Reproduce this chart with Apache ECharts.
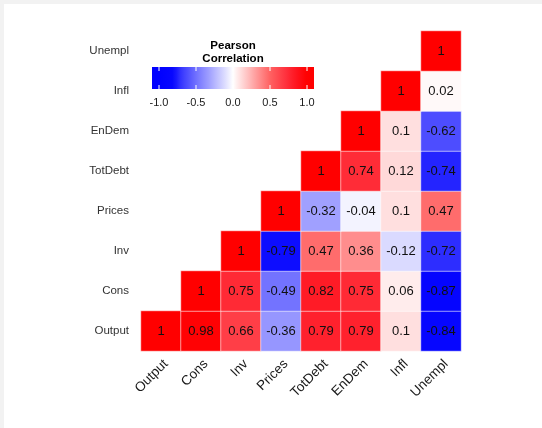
<!DOCTYPE html>
<html>
<head>
<meta charset="utf-8">
<script src="https://cdn.jsdelivr.net/npm/echarts@6/dist/echarts.min.js"></script>
<style>
  html, body { margin: 0; padding: 0; background: #ffffff; }
  #main { width: 542px; height: 428px; }
</style>
</head>
<body>
<div id="main"></div>
<script>
// Variables shown on both axes (bottom-to-top on y, left-to-right on x)
const variables = ['Output', 'Cons', 'Inv', 'Prices', 'TotDebt', 'EnDem', 'Infl', 'Unempl'];

// Pearson correlation matrix, one row per variable
const corOutput  = [1, 0.98, 0.66, -0.36, 0.79, 0.79, 0.1, -0.84];
const corCons    = [0.98, 1, 0.75, -0.49, 0.82, 0.75, 0.06, -0.87];
const corInv     = [0.66, 0.75, 1, -0.79, 0.47, 0.36, -0.12, -0.72];
const corPrices  = [-0.36, -0.49, -0.79, 1, -0.32, -0.04, 0.1, 0.47];
const corTotDebt = [0.79, 0.82, 0.47, -0.32, 1, 0.74, 0.12, -0.74];
const corEnDem   = [0.79, 0.75, 0.36, -0.04, 0.74, 1, 0.1, -0.62];
const corInfl    = [0.1, 0.06, -0.12, 0.1, 0.12, 0.1, 1, 0.02];
const corUnempl  = [-0.84, -0.87, -0.72, 0.47, -0.74, -0.62, 0.02, 1];

// Colour bar tick labels
const legendTicks = [-1.0, -0.5, 0.0, 0.5, 1.0];

// Diverging blue-white-red palette (value, colour)
const paletteStops = [
  [-1, '#0000ff'], [-0.8, '#0808ff'], [-0.7, '#3636ff'], [-0.5, '#7070ff'],
  [-0.3, '#a6a6ff'], [-0.1, '#e0e0ff'], [0, '#ffffff'], [0.1, '#ffdfdf'],
  [0.3, '#ffa0a0'], [0.5, '#ff6262'], [0.7, '#ff3440'], [0.85, '#ff1520'], [1, '#ff0000']
];

const matrix = [corOutput, corCons, corInv, corPrices, corTotDebt, corEnDem, corInfl, corUnempl];

function hexToRgb(h) {
  return [parseInt(h.slice(1, 3), 16), parseInt(h.slice(3, 5), 16), parseInt(h.slice(5, 7), 16)];
}
function paletteAt(v) {
  for (let i = 1; i < paletteStops.length; i++) {
    const [v1, c1] = paletteStops[i];
    const [v0, c0] = paletteStops[i - 1];
    if (v <= v1) {
      const t = (v - v0) / (v1 - v0);
      const a = hexToRgb(c0), b = hexToRgb(c1);
      const c = a.map((x, k) => Math.round(x + (b[k] - x) * t));
      return 'rgb(' + c.join(',') + ')';
    }
  }
  return paletteStops[paletteStops.length - 1][1];
}

// Evenly spaced colour ramp for the visual map
const ramp = [];
for (let i = 0; i <= 80; i++) ramp.push(paletteAt(-1 + i * 2 / 80));

// Lower/right triangle of the matrix: column index >= row index
const cells = [];
matrix.forEach((row, r) => {
  row.forEach((v, c) => {
    if (c >= r) cells.push([c, r, v]);
  });
});

// Colour bar geometry
const barX = 152, barY = 67, barW = 162, barH = 22;
const tickX0 = 159, tickX1 = 307;
const valToX = v => tickX0 + (v + 1) / 2 * (tickX1 - tickX0);

const gradStops = [];
for (let i = 0; i <= 40; i++) {
  const x = barX + i * barW / 40;
  const v = Math.max(-1, Math.min(1, (x - tickX0) / (tickX1 - tickX0) * 2 - 1));
  gradStops.push({ offset: i / 40, color: paletteAt(v) });
}

const graphics = [
  { type: 'rect', shape: { x: 0, y: 0, width: 542, height: 4 }, style: { fill: '#f2f2f2' }, silent: true },
  { type: 'rect', shape: { x: 0, y: 0, width: 4, height: 428 }, style: { fill: '#f2f2f2' }, silent: true },
  {
    type: 'rect', shape: { x: barX, y: barY, width: barW, height: barH },
    style: { fill: new echarts.graphic.LinearGradient(0, 0, 1, 0, gradStops) }
  },
  {
    type: 'text', x: 233, y: 39,
    style: { text: 'Pearson\nCorrelation', fontFamily: 'Liberation Sans, Arial, sans-serif', fontSize: 11.5, fontWeight: 'bold', fill: '#000', align: 'center', verticalAlign: 'top', lineHeight: 13 }
  }
];
legendTicks.forEach(t => {
  const x = valToX(t);
  graphics.push({ type: 'line', shape: { x1: x, y1: barY, x2: x, y2: barY + 4 }, style: { stroke: '#ffffff', lineWidth: 1 } });
  graphics.push({ type: 'line', shape: { x1: x, y1: barY + barH - 4, x2: x, y2: barY + barH }, style: { stroke: '#ffffff', lineWidth: 1 } });
  graphics.push({
    type: 'text', x: x, y: barY + barH + 8,
    style: { text: t.toFixed(1), fontFamily: 'Liberation Sans, Arial, sans-serif', fontSize: 11, fill: '#1a1a1a', align: 'center', verticalAlign: 'top' }
  });
});

const chart = echarts.init(document.getElementById('main'), null, { renderer: 'canvas' });
chart.setOption({
  backgroundColor: '#ffffff',
  animation: false,
  grid: { left: 141, top: 31, width: 320, height: 320 },
  xAxis: {
    type: 'category', data: variables,
    axisLine: { show: false }, axisTick: { show: false }, splitLine: { show: false },
    axisLabel: {
      rotate: 45, margin: 6, align: 'right', verticalAlign: 'top',
      fontSize: 13.5, color: '#1a1a1a', fontFamily: 'Liberation Sans, Arial, sans-serif', interval: 0
    }
  },
  yAxis: {
    type: 'category', data: variables,
    axisLine: { show: false }, axisTick: { show: false }, splitLine: { show: false },
    axisLabel: { margin: 12, fontSize: 11.5, color: '#333333', fontFamily: 'Liberation Sans, Arial, sans-serif', interval: 0 }
  },
  visualMap: {
    show: false, type: 'continuous', min: -1, max: 1, dimension: 2,
    inRange: { color: ramp }
  },
  graphic: graphics,
  series: [{
    type: 'heatmap',
    data: cells,
    itemStyle: { borderColor: 'rgba(255,255,255,0.55)', borderWidth: 1 },
    label: {
      show: true, fontSize: 13, color: '#111111', fontFamily: 'Liberation Sans, Arial, sans-serif',
      formatter: p => String(p.value[2])
    },
    emphasis: { disabled: true }
  }]
});
</script>
</body>
</html>
